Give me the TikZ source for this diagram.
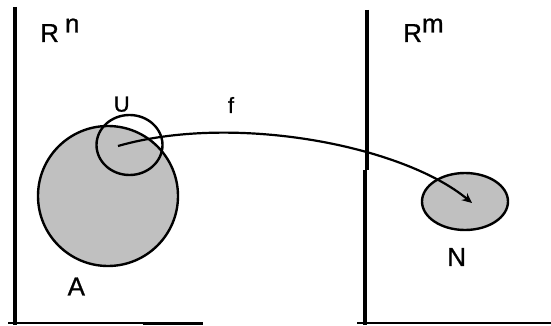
\documentclass[tikz,border=0pt]{standalone}
\usepackage{fontspec}
\setmainfont{Liberation Sans}
\newfontfamily\lblfont{Liberation Sans}[FakeBold=0.8]
\usetikzlibrary{arrows.meta}
\definecolor{setgray}{RGB}{192,192,192}
\tikzset{
  axis/.style={line width=4.8pt},
  base/.style={line width=2.2pt},
  setline/.style={line width=2.4pt, draw=black},
  setfill/.style={setline, fill=setgray},
  lbl/.style={inner sep=0pt, font=\lblfont\fontsize{26}{30}\selectfont},
  lblsmall/.style={inner sep=0pt, font=\lblfont\fontsize{22}{26}\selectfont},
  mapto/.style={line width=2.2pt, -{Stealth[length=10pt,width=9pt]}}
}
\begin{document}
\begin{tikzpicture}[x=1pt,y=-1pt]
\useasboundingbox (0,0) rectangle (551,326);
% axes / frames
\draw[axis] (15,7) coordinate (la1) -- (15,325) coordinate (la2);
\draw[base] (8,323.3) coordinate (lb1) -- (203,323.3) coordinate (lb2);
\draw[line width=3.6pt] (143,323.5) coordinate (lt1) -- (203,323.5) coordinate (lt2);
\draw[axis] (367,10) coordinate (ra1) -- (367,170) coordinate (ra2);
\draw[axis] (365,170) coordinate (ra3) -- (365,325) coordinate (ra4);
\draw[base] (357,323.3) coordinate (rb1) -- (551,323.3) coordinate (rb2);
% sets
\node[setfill, circle, minimum size=140pt, inner sep=0pt] (A) at (108,196) {};
\draw[setline] (129.5,145) ellipse [x radius=33, y radius=30];
\coordinate (Uc) at (118,146);
\draw[setfill] (465,201.5) ellipse [x radius=43, y radius=28.5];
\coordinate (Nc) at (472,203);
% map
\draw[mapto] (Uc) .. controls (233,113) and (402,145) .. (Nc);
% labels
\node[lbl, anchor=base west] (Rn) at (40,42) {R\kern6pt\raisebox{9.5pt}{n}};
\node[lbl, anchor=base west] (Rm) at (403,42) {R\raisebox{9.5pt}{m}};
\node[lblsmall] (U) at (121.7,104.2) {U};
\node[lblsmall] (f) at (231,105) {f};
\node[lbl] (Alab) at (76.3,286.5) {A};
\node[lbl] (N) at (456.7,257) {N};
\end{tikzpicture}
\end{document}
